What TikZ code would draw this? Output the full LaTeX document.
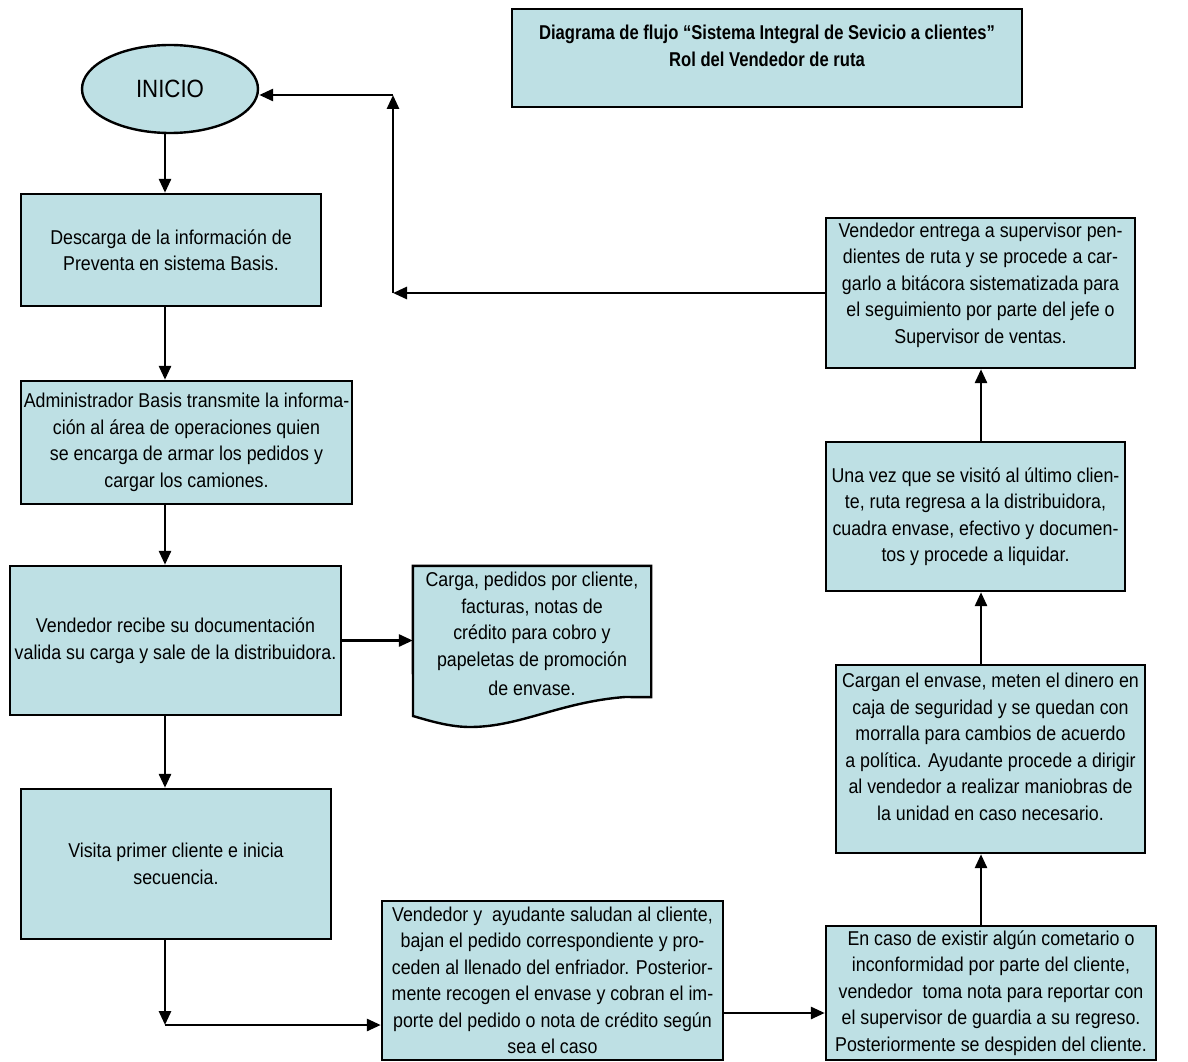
\documentclass[tikz,border=0pt]{standalone}
\usepackage{fontspec}
\setmainfont[FakeStretch=0.89]{Liberation Sans}
\newfontfamily\titlefont[FakeStretch=0.83]{Liberation Sans}
\usetikzlibrary{arrows.meta,shapes.geometric,calc}
\definecolor{boxfill}{RGB}{190,224,228}
\begin{document}
\begin{tikzpicture}[x=1pt,y=-1pt,
  box/.style={draw=black,line width=2.4pt,fill=boxfill,rectangle,inner sep=0pt,align=center,font=\fontsize{20}{26.5}\selectfont},
  txt/.style={inner sep=0pt,align=center,font=\fontsize{20}{26.5}\selectfont},
  arr/.style={line width=2.8pt,-{Triangle[length=14pt,width=12pt]}}]
\useasboundingbox (0,0) rectangle (1188,1062);

% title
\node[box,minimum width=510pt,minimum height=98pt] (title) at (767,58) {};
\node[txt,font=\titlefont\bfseries\fontsize{20}{27}\selectfont] (titletext) at (767,46)
  {Diagrama de flujo “Sistema Integral de Sevicio a clientes”\\Rol del Vendedor de ruta};

% left column
\node[box,ellipse,minimum width=176pt,minimum height=88pt,font=\fontsize{25}{30}\selectfont] (ini) at (170,89) {INICIO};
\node[box,minimum width=300pt,minimum height=112pt] (b1) at (171,250)
  {Descarga de la información de\\Preventa en sistema Basis.};
\node[box,minimum width=331pt,minimum height=123pt] (b2) at (186.5,442.5)
  {Administrador Basis transmite la informa-\\ción al área de operaciones quien\\se encarga de armar los pedidos y\\cargar los camiones.};
\node[box,minimum width=331pt,minimum height=149pt] (b3) at (175.5,640.5)
  {Vendedor recibe su documentación\\valida su carga y sale de la distribuidora.};
\node[box,minimum width=310pt,minimum height=150pt] (b4) at (176,864)
  {Visita primer cliente e inicia\\secuencia.};

% document shape
\node[inner sep=0pt,minimum width=238pt,minimum height=131pt] (doc) at (532,631.5) {};
\path[draw=black,line width=2.4pt,fill=boxfill] (doc.north west) -- (doc.north east) -- (doc.south east)
  -- (625,697) .. controls (560,702) and (520,727) .. (470,727)
  .. controls (450,727) and (430,721) .. (413,716) -- cycle;
\node[txt] (doctext) at (532,634)
  {Carga, pedidos por cliente,\\facturas, notas de\\crédito para cobro y\\papeletas de promoción\\[2.5pt]de envase.};

% bottom row
\node[box,minimum width=341pt,minimum height=159pt] (b5) at (552.5,980.5)
  {Vendedor y \ ayudante saludan al cliente,\\bajan el pedido correspondiente y pro-\\ceden al llenado del enfriador. Posterior-\\mente recogen el envase y cobran el im-\\porte del pedido o nota de crédito según\\sea el caso};
\node[box,minimum width=330pt,minimum height=134pt] (b6) at (991,993)
  {En caso de existir algún cometario o\\inconformidad por parte del cliente,\\vendedor \ toma nota para reportar con\\el supervisor de guardia a su regreso.\\Posteriormente se despiden del cliente.};

% right column
\node[box,minimum width=309pt,minimum height=188pt] (b7) at (990.5,759) {};
\node[txt] (b7text) at (990.5,747)
  {Cargan el envase, meten el dinero en\\caja de seguridad y se quedan con\\morralla para cambios de acuerdo\\a política. Ayudante procede a dirigir\\al vendedor a realizar maniobras de\\la unidad en caso necesario.};
\node[box,minimum width=299pt,minimum height=149pt] (b8) at (975.5,516.5)
  {Una vez que se visitó al último clien-\\te, ruta regresa a la distribuidora,\\cuadra envase, efectivo y documen-\\tos y procede a liquidar.};
\node[box,minimum width=309pt,minimum height=150pt] (b9) at (980.5,293) {};
\node[txt] (b9text) at (980.5,285)
  {Vendedor entrega a supervisor pen-\\dientes de ruta y se procede a car-\\garlo a bitácora sistematizada para\\el seguimiento por parte del jefe o\\Supervisor de ventas.};

% helper coordinates
\coordinate (xl) at (165,0);
\coordinate (xr) at (981,0);
\coordinate (c1) at (393,293);
\coordinate (c2) at (393,95);
\coordinate (c3) at (165,1025);
\coordinate (y5) at (0,1013);

% connectors
\draw[arr] (ini.south -| xl) -- (b1.north -| xl);
\draw[arr] (b1.south -| xl) -- (b2.north -| xl);
\draw[arr] (b2.south -| xl) -- (b3.north -| xl);
\draw[arr] (b3.south -| xl) -- (b4.north -| xl);
\draw[arr] (b3.east) -- (doc.west |- b3.east);
\draw[arr] (b4.south -| xl) -- (c3);
\draw[arr] (c3) -- (b5.west |- c3);
\draw[arr] (b5.east |- y5) -- (b6.west |- y5);
\draw[arr] (b6.north -| xr) -- (b7.south -| xr);
\draw[arr] (b7.north -| xr) -- (b8.south -| xr);
\draw[arr] (b8.north -| xr) -- (b9.south -| xr);
\draw[arr] (b9.west) -- (c1);
\draw[arr] (c1) -- (c2);
\draw[arr] (c2) -- (ini.east |- c2);
\end{tikzpicture}
\end{document}
